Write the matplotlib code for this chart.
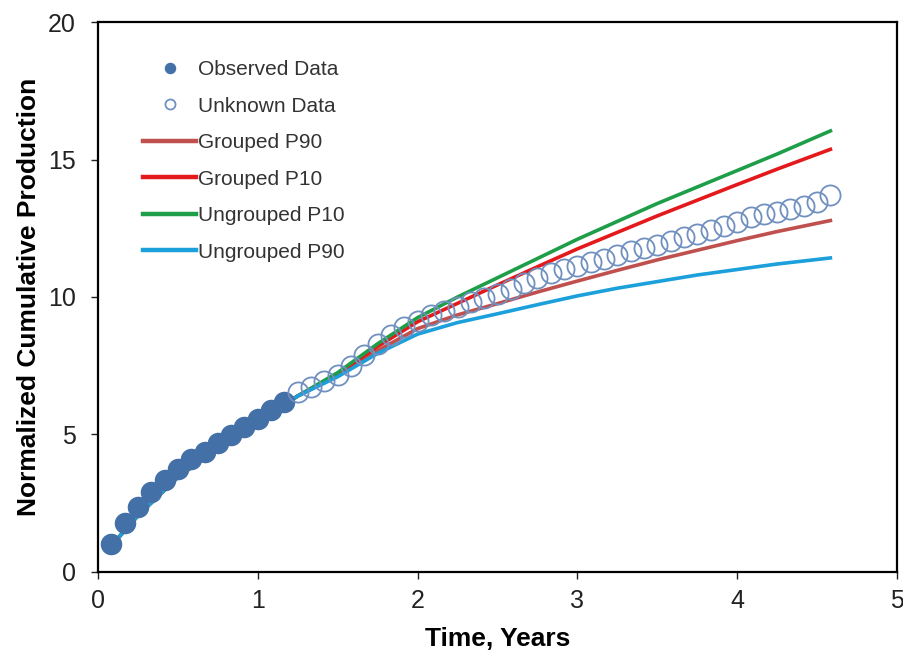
import numpy as np
import matplotlib
matplotlib.use("Agg")
import matplotlib.pyplot as plt

plt.rcParams['font.family'] = ['Liberation Sans', 'DejaVu Sans']

# Observed production (monthly, first 14 months)
obs_t = [1/12, 2/12, 3/12, 4/12, 5/12, 6/12, 7/12, 8/12, 9/12, 10/12,
         11/12, 12/12, 13/12, 14/12]
obs_q = [1.02, 1.77, 2.35, 2.92, 3.35, 3.75, 4.12, 4.38, 4.68, 4.98,
         5.28, 5.58, 5.88, 6.19]

# Held-out production (monthly, months 15-55)
unk_t = [m / 12 for m in range(15, 56)]
unk_q = [6.55, 6.72, 6.95, 7.18, 7.50, 7.90, 8.30, 8.62, 8.92, 9.14,
         9.33, 9.50, 9.62, 9.80, 9.98, 10.12, 10.30, 10.50, 10.68, 10.88,
         11.02, 11.14, 11.26, 11.38, 11.52, 11.66, 11.78, 11.90, 12.04, 12.18,
         12.30, 12.42, 12.58, 12.74, 12.90, 13.02, 13.10, 13.20, 13.32, 13.45,
         13.70]

# Forecast curves
fc_t = [0.083, 0.25, 0.5, 0.75, 1.0, 1.25, 1.5, 1.75, 2.0, 2.25, 2.5,
        2.75, 3.0, 3.25, 3.5, 3.75, 4.0, 4.25, 4.583]
grouped_p90 = [0.95, 2.05, 3.45, 4.50, 5.45, 6.40, 7.15, 8.05, 8.85, 9.35,
               9.76, 10.18, 10.58, 10.97, 11.35, 11.70, 12.05, 12.38, 12.78]
grouped_p10 = [0.95, 2.05, 3.45, 4.50, 5.45, 6.40, 7.20, 8.20, 9.10, 9.77,
               10.44, 11.10, 11.75, 12.35, 12.95, 13.52, 14.09, 14.65, 15.37]
ungrouped_p10 = [0.95, 2.05, 3.45, 4.50, 5.45, 6.40, 7.25, 8.30, 9.25, 10.00,
                 10.70, 11.40, 12.10, 12.75, 13.40, 14.00, 14.60, 15.20, 16.04]
ungrouped_p90 = [0.95, 2.05, 3.45, 4.50, 5.45, 6.40, 7.10, 7.95, 8.65, 9.07,
                 9.39, 9.72, 10.04, 10.32, 10.56, 10.80, 11.00, 11.20, 11.42]

x_ticks = [0, 1, 2, 3, 4, 5]
y_ticks = [0, 5, 10, 15, 20]

fig = plt.figure(figsize=(9.04, 6.57), dpi=100)
ax = fig.add_axes([0.1084, 0.1294, 0.8839, 0.8371])

lw = 2.6
ax.plot(fc_t, grouped_p90, color='#C0504D', lw=lw, label='Grouped P90', zorder=2)
ax.plot(fc_t, grouped_p10, color='#E3191C', lw=lw, label='Grouped P10', zorder=2)
ax.plot(fc_t, ungrouped_p10, color='#1E9E48', lw=lw, label='Ungrouped P10', zorder=2)
ax.plot(fc_t, ungrouped_p90, color='#1BA0DC', lw=lw, label='Ungrouped P90', zorder=2)

ax.plot(obs_t, obs_q, 'o', ms=14.5, color='#4470A8', mec='#4470A8',
        label='Observed Data', zorder=3)
ax.plot(unk_t, unk_q, 'o', ms=14.5, mfc='none', mec='#7090C0', mew=1.3,
        label='Unknown Data', zorder=3)

ax.set_xlim(0, 5)
ax.set_ylim(0, 20)
ax.set_xticks(x_ticks)
ax.set_yticks(y_ticks)
ax.tick_params(direction='out', length=5, width=1, labelsize=18,
               colors='#222222')
ax.tick_params(axis='x', pad=7)
ax.tick_params(axis='y', pad=11)
for s in ax.spines.values():
    s.set_linewidth(1.6)
    s.set_color('black')

ax.set_xlabel('Time, Years', fontsize=19, fontweight='bold', labelpad=10)
ax.set_ylabel('Normalized Cumulative Production', fontsize=19,
              fontweight='bold', labelpad=5)

handles, labels = ax.get_legend_handles_labels()
order = [4, 5, 0, 1, 2, 3]
leg = ax.legend([handles[i] for i in order], [labels[i] for i in order],
                loc='upper left', bbox_to_anchor=(0.033, 0.965),
                frameon=False, fontsize=15, handlelength=2.55,
                handletextpad=0.1, labelspacing=0.84, markerscale=0.5)
for line in leg.get_lines():
    line.set_linewidth(3.2)
for t in leg.get_texts():
    t.set_color('#333333')

fig.savefig('out.png', dpi=100)
